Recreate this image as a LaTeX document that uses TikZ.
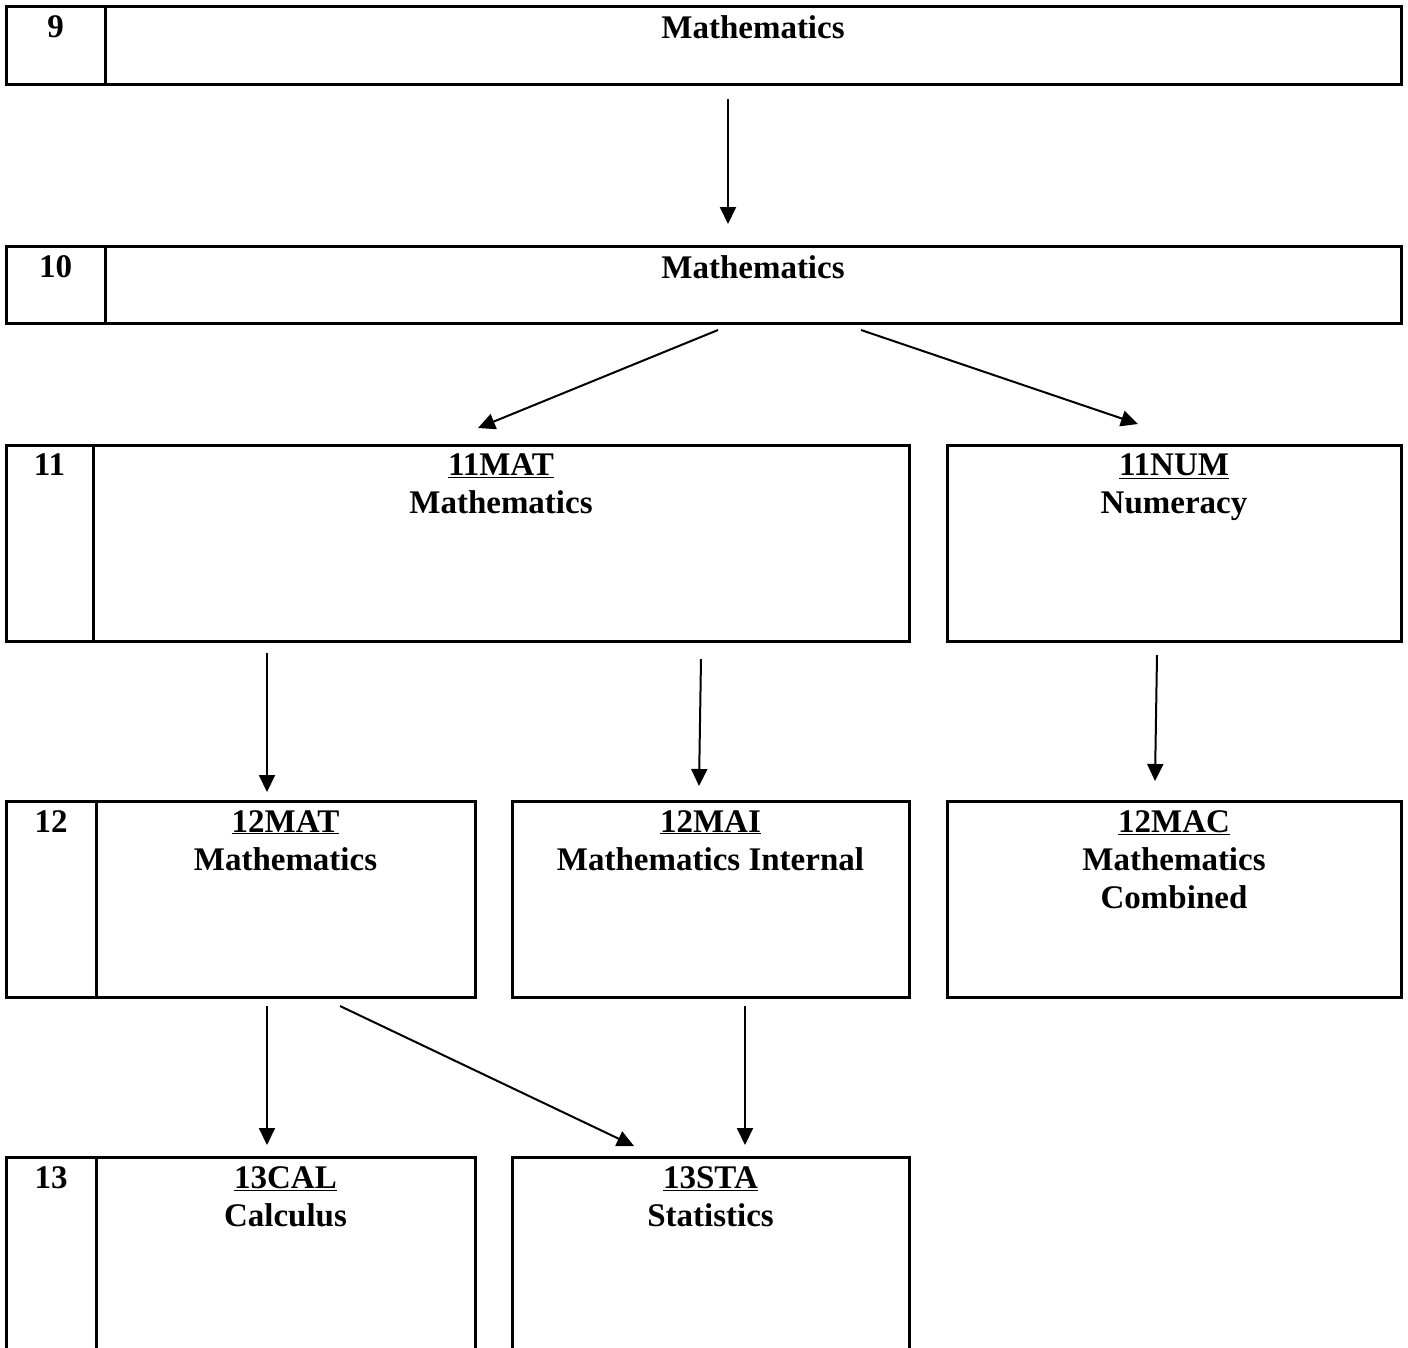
\documentclass[tikz,border=0pt]{standalone}
\usepackage{fontspec}
\setmainfont{Liberation Serif}
\usetikzlibrary{positioning,calc,arrows.meta}
\tikzset{
  cell/.style={draw, line width=3pt, inner sep=0pt, outer sep=0pt},
  lbl/.style={anchor=north, align=center, inner sep=0pt, font=\fontsize{33pt}{38pt}\selectfont\bfseries},
  arr/.style={line width=2pt, -{Triangle[length=17pt,width=16pt]}}
}
\begin{document}
\begin{tikzpicture}[x=1pt,y=-1pt]
\useasboundingbox (0,0) rectangle (1408,1347);
\clip (0,0) rectangle (1408,1347);

\node[cell, minimum width=99pt, minimum height=78pt, anchor=north west] (y9) at (6,6) {};
\node[cell, minimum width=1296pt, minimum height=78pt, right=0pt of y9] (c9) {};

\node[cell, minimum width=99pt, minimum height=77pt, anchor=north west] (y10) at (6,246) {};
\node[cell, minimum width=1296pt, minimum height=77pt, right=0pt of y10] (c10) {};

\node[cell, minimum width=87pt, minimum height=196pt, anchor=north west] (y11) at (6,445) {};
\node[cell, minimum width=816pt, minimum height=196pt, right=0pt of y11] (mat11) {};
\node[cell, minimum width=454pt, minimum height=196pt, right=38pt of mat11] (num11) {};

\node[cell, minimum width=90pt, minimum height=196pt, anchor=north west] (y12) at (6,801) {};
\node[cell, minimum width=379pt, minimum height=196pt, right=0pt of y12] (mat12) {};
\node[cell, minimum width=397pt, minimum height=196pt, right=37pt of mat12] (mai12) {};
\node[cell, minimum width=454pt, minimum height=196pt, right=38pt of mai12] (mac12) {};

\node[cell, minimum width=90pt, minimum height=260pt, anchor=north west] (y13) at (6,1157) {};
\node[cell, minimum width=379pt, minimum height=260pt, right=0pt of y13] (cal13) {};
\node[cell, minimum width=397pt, minimum height=260pt, right=37pt of cal13] (sta13) {};

\node[lbl] (t9) at ($(y9.north)+(0,9)$) {9};
\node[lbl] (tm9) at ($(c9.north)+(0,9)$) {Mathematics};
\node[lbl] (t10) at ($(y10.north)+(0,9)$) {10};
\node[lbl] (tm10) at ($(c10.north)+(0,9)$) {Mathematics};
\node[lbl] (t11) at ($(y11.north)+(0,9)$) {11};
\node[lbl] (tmat11) at ($(mat11.north)+(0,9)$) {\underline{11MAT}\\Mathematics};
\node[lbl] (tnum11) at ($(num11.north)+(0,9)$) {\underline{11NUM}\\Numeracy};
\node[lbl] (t12) at ($(y12.north)+(0,9)$) {12};
\node[lbl] (tmat12) at ($(mat12.north)+(0,9)$) {\underline{12MAT}\\Mathematics};
\node[lbl] (tmai12) at ($(mai12.north)+(0,9)$) {\underline{12MAI}\\Mathematics Internal};
\node[lbl] (tmac12) at ($(mac12.north)+(0,9)$) {\underline{12MAC}\\Mathematics\\Combined};
\node[lbl] (t13) at ($(y13.north)+(0,9)$) {13};
\node[lbl] (tcal13) at ($(cal13.north)+(0,9)$) {\underline{13CAL}\\Calculus};
\node[lbl] (tsta13) at ($(sta13.north)+(0,9)$) {\underline{13STA}\\Statistics};

\draw[arr] ($(c9.south)+(-25,15)$) -- ($(c10.north)+(-25,-22)$);
\draw[arr] ($(c10.south)+(-35,7)$) -- ($(mat11.north)+(-23,-17)$);
\draw[arr] ($(c10.south)+(108,7)$) -- ($(num11.north)+(-36,-21)$);
\draw[arr] ($(mat11.south west)+(174,12)$) -- ($(mat12.north)+(-18.5,-9)$);
\draw[arr] ($(mat11.south)+(200,18)$) -- ($(mai12.north)+(-11.5,-15)$);
\draw[arr] ($(num11.south)+(-17,14)$) -- ($(mac12.north)+(-19,-20)$);
\draw[arr] ($(mat12.south)+(-18.5,9)$) -- ($(cal13.north)+(-18.5,-12)$);
\draw[arr] ($(mat12.south)+(54.5,9)$) -- ($(sta13.north)+(-76.5,-11)$);
\draw[arr] ($(mai12.south)+(34.5,9)$) -- ($(sta13.north)+(34.5,-12)$);
\end{tikzpicture}
\end{document}
